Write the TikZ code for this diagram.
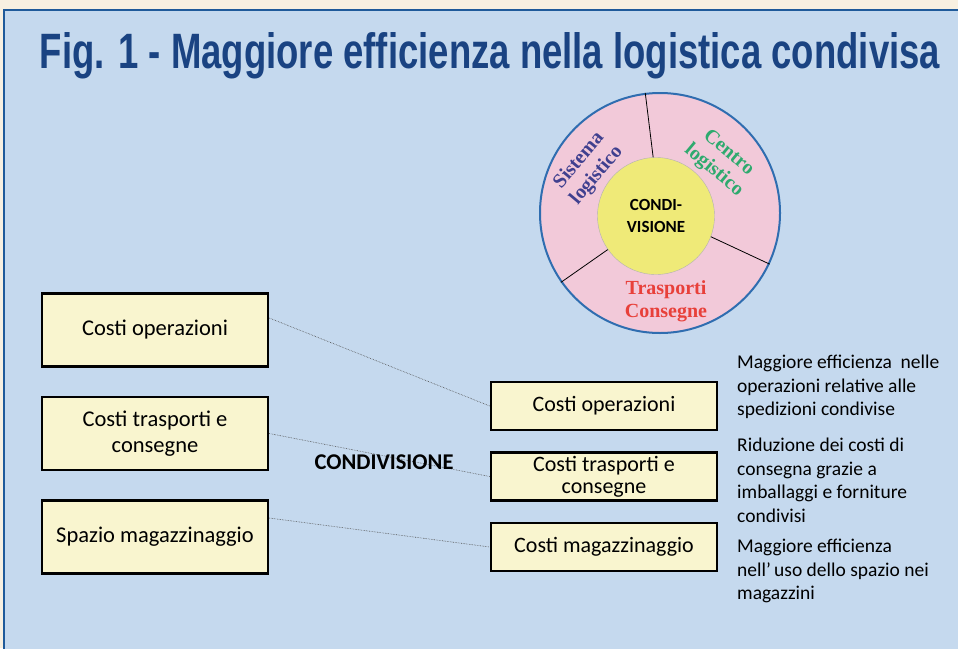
\documentclass[tikz,border=0pt]{standalone}
\usepackage{fontspec}
\setmainfont{Carlito}
\newfontfamily\ringfont{Liberation Serif}
\newfontfamily\titlefont{Liberation Sans}
\usetikzlibrary{positioning}

\definecolor{creambg}{HTML}{F8F0E1}
\definecolor{panelblue}{HTML}{C5D9EE}
\definecolor{paneledge}{HTML}{1F5A9A}
\definecolor{titleblue}{HTML}{1A4382}
\definecolor{ringpink}{HTML}{F2C9D9}
\definecolor{ringedge}{HTML}{2F6DB0}
\definecolor{hubyellow}{HTML}{EFEA78}
\definecolor{boxyellow}{HTML}{F9F5CF}
\definecolor{sistemacol}{HTML}{40408F}
\definecolor{centrocol}{HTML}{2EAA6E}
\definecolor{trasporticol}{HTML}{E8403A}

\begin{document}
\begin{tikzpicture}[x=1pt, y=-1pt,
    costbox/.style={rectangle, draw=black, line width=2.5pt, fill=boxyellow, minimum width=226pt, minimum height=73pt, align=center, font=\fontsize{22.5}{26}\selectfont},
    gainbox/.style={rectangle, draw=black, line width=2.5pt, fill=boxyellow, minimum width=226pt, minimum height=48pt, inner sep=1pt, align=center, font=\fontsize{22}{22}\selectfont},
    note/.style={anchor=north west, inner sep=0pt, align=left, font=\fontsize{19.5}{23.5}\selectfont},
    ringlabel/.style={align=center, font=\ringfont\bfseries\fontsize{20}{23}\selectfont},
    link/.style={densely dotted, line width=0.6pt, color=gray!60!black},
    divider/.style={line width=0.8pt, color=black}
]
\useasboundingbox (0,0) rectangle (958,648);
\fill[creambg] (0,0) rectangle (958,648);
\draw[line width=2.5pt, draw=paneledge, fill=panelblue] (4,10) rectangle (980,670);

\node[anchor=base] (title) at (490,68) {\resizebox{900pt}{36pt}{\titlefont\bfseries\color{titleblue}Fig. 1 - Maggiore efficienza nella logistica condivisa}};

% cerchio della condivisione
\node[circle, draw=ringedge, line width=2pt, fill=ringpink, minimum size=240pt] (ring) at (660,213) {};
\foreach \a in {97,335,215}
    \draw[divider] (ring.center) -- (ring.\a);
\node[circle, draw=gray!60, fill=hubyellow, minimum size=117pt, inner sep=0pt, align=center, font=\bfseries\fontsize{17}{22}\selectfont] (hub) at (656,216) {CONDI-\\VISIONE};
\node[ringlabel, text=sistemacol, rotate=50] (sistema) at (588,168) {Sistema\\logistico};
\node[ringlabel, text=centrocol, rotate=-40] (centro) at (721,162) {Centro\\logistico};
\node[ringlabel, text=trasporticol] (trasporti) at (666,301) {Trasporti\\Consegne};

% costi prima
\node[costbox] (lb1) at (155,330) {Costi operazioni};
\node[costbox, below=28pt of lb1] (lb2) {Costi trasporti e\\consegne};
\node[costbox, below=28pt of lb2] (lb3) {Spazio magazzinaggio};

% costi dopo
\node[gainbox] (rb1) at (604,406) {Costi operazioni};
\node[gainbox, below=20pt of rb1] (rb2) {Costi trasporti e\\consegne};
\node[gainbox, below=20pt of rb2] (rb3) {Costi magazzinaggio};

\draw[link] ([yshift=12pt]lb1.east) -- (rb1.west);
\draw[link] (lb2.east) -- (rb2.west);
\draw[link] ([yshift=19pt]lb3.east) -- (rb3.west);

\node[font=\bfseries\fontsize{22.5}{24}\selectfont] (condiv) at (384,462) {CONDIVISIONE};

\node[note] (n1) at (737,355) {Maggiore efficienza\ \ nelle\\operazioni relative alle\\spedizioni condivise};
\node[note] (n2) at (737,438) {Riduzione dei costi di\\consegna grazie a\\imballaggi e forniture\\condivisi};
\node[note] (n3) at (737,539) {Maggiore efficienza\\nell'\,uso dello spazio nei\\magazzini};
\end{tikzpicture}
\end{document}
